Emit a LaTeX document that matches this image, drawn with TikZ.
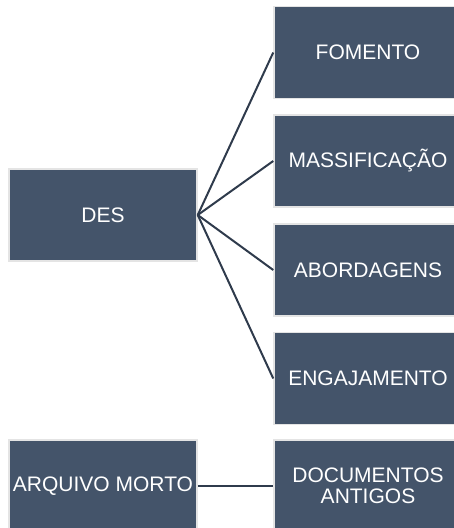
\documentclass[tikz,border=0pt]{standalone}
\usepackage{fontspec}
\setmainfont{Liberation Sans}
\usetikzlibrary{positioning}
\definecolor{boxfill}{HTML}{44546A}
\definecolor{boxline}{HTML}{E4E4E4}
\definecolor{linkcol}{HTML}{2F3B4C}

\begin{document}
\begin{tikzpicture}[x=1pt,y=-1pt,
  box/.style={rectangle,fill=boxfill,draw=boxline,line width=1.5pt,minimum width=188pt,minimum height=92pt,inner sep=0pt,text=white,font=\fontsize{21}{21.5}\selectfont,align=center},
  link/.style={draw=linkcol,line width=2pt}]
\useasboundingbox (0,0) rectangle (453,528);
\node[box] (DES) at (103,215) {DES};
\node[box] (FOM) at (368,52.5) {FOMENTO};
\node[box] (MAS) at (368,161) {MASSIFICAÇÃO};
\node[box] (ABO) at (368,270) {ABORDAGENS};
\node[box] (ENG) at (368,378.5) {ENGAJAMENTO};
\node[box] (ARQ) at (103,486) {ARQUIVO MORTO};
\node[box] (DOC) at (368,486) {DOCUMENTOS\\ANTIGOS};

\foreach \n in {FOM,MAS,ABO,ENG}
  \draw[link] (DES.east) -- (\n.west);
\draw[link] (ARQ) -- (DOC);

\end{tikzpicture}
\end{document}
